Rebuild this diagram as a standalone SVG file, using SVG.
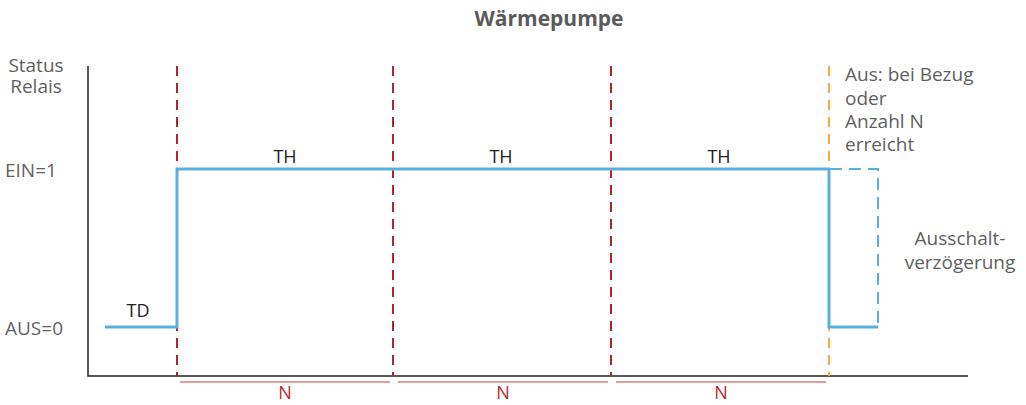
<svg xmlns="http://www.w3.org/2000/svg" width="1026" height="405" viewBox="0 0 1026 405">
<style>
text{font-family:"Open Sans","Noto Sans","Liberation Sans",sans-serif;fill:#5f5f5f;font-size:19px}
.title{font-size:21px;font-weight:bold;fill:#5a5a5a}
.lbl{fill:#222;font-size:18px}
.n{fill:#b8282a;text-anchor:middle;font-size:18px}
.axis{stroke:#222;stroke-width:1.5;fill:none}
.red{stroke:#b5222a;stroke-width:2;stroke-dasharray:10,7;fill:none}
.org{stroke:#f6ad3c;stroke-width:2;stroke-dasharray:10,7;fill:none}
.sig{stroke:#5aafdc;stroke-width:3;fill:none}
.sigd{stroke:#5aafdc;stroke-width:2;stroke-dasharray:12,7;fill:none}
.br{stroke:#e07a7a;stroke-width:1.5;fill:none}
</style>
<rect width="1026" height="405" fill="#fff"/>
<text class="title" x="549" y="26" text-anchor="middle">Wärmepumpe</text>
<g id="ylabels">
<text x="36" y="72" text-anchor="middle">Status</text>
<text x="36" y="93" text-anchor="middle">Relais</text>
<text x="5" y="177">EIN=1</text>
<text x="5" y="335">AUS=0</text>
</g>
<g id="connectors">
<path class="axis" d="M88,66V376H968"/>
<path class="red" d="M177,66V376"/>
<path class="red" d="M393,66V376"/>
<path class="red" d="M611,66V376"/>
<path class="org" d="M829,66V376"/>
<path class="sig" d="M105,327H177V169H829V327H878"/>
<path class="sigd" d="M830,169H878V327"/>
<path class="br" d="M180,382H390M398,382H608M616,382H826"/>
</g>
<g id="labels">
<text class="lbl" x="138" y="317" text-anchor="middle">TD</text>
<text class="lbl" x="285" y="163" text-anchor="middle">TH</text>
<text class="lbl" x="501" y="163" text-anchor="middle">TH</text>
<text class="lbl" x="719" y="163" text-anchor="middle">TH</text>
<text class="n" x="285" y="399">N</text>
<text class="n" x="503" y="399">N</text>
<text class="n" x="721" y="399">N</text>
</g>
<g id="notes">
<text x="845" y="81">Aus: bei Bezug</text>
<text x="845" y="105">oder</text>
<text x="845" y="128">Anzahl N</text>
<text x="845" y="151">erreicht</text>
<text x="960" y="245" text-anchor="middle">Ausschalt-</text>
<text x="960" y="269" text-anchor="middle">verzögerung</text>
</g>
</svg>
